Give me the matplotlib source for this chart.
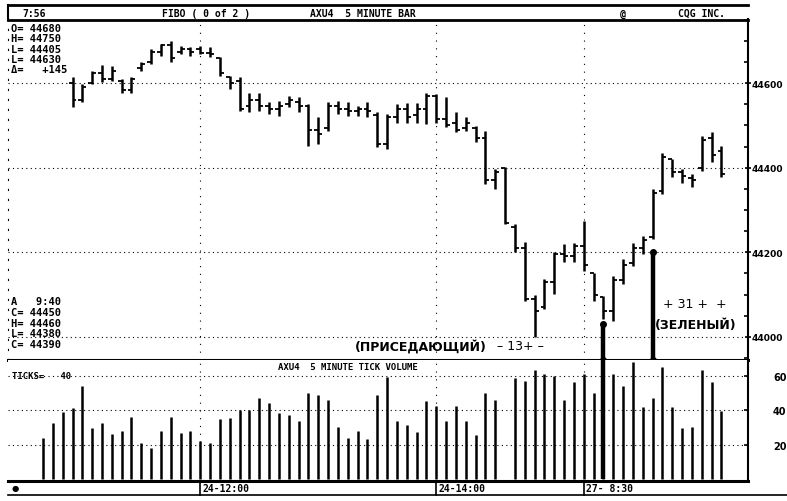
import numpy as np
import matplotlib.pyplot as plt

# 5 minute bars, index 0 = 24th 11:20 ; first three price bars are not shown
bar_idx = list(range(3, 70))
highs = [44614, 44598, 44630, 44643, 44641, 44610, 44614, 44650, 44681, 44693,
         44700, 44689, 44685, 44689, 44685, 44661, 44618, 44614, 44578, 44578,
         44555, 44559, 44570, 44567, 44551, 44519, 44555, 44559, 44555, 44547,
         44555, 44531, 44527, 44551, 44553, 44553, 44578, 44574, 44567, 44531,
         44519, 44499, 44488, 44397, 44401, 44267, 44224, 44098, 44137, 44200,
         44219, 44223, 44275, 44152, 44097, 44144, 44184, 44223, 44239, 44350,
         44436, 44421, 44397, 44385, 44476, 44484, 44452]
lows = [44543, 44555, 44598, 44602, 44606, 44578, 44578, 44630, 44645, 44665,
        44650, 44669, 44665, 44669, 44661, 44618, 44586, 44535, 44531, 44535,
        44527, 44523, 44543, 44531, 44452, 44456, 44488, 44527, 44523, 44523,
        44519, 44448, 44444, 44507, 44507, 44507, 44503, 44507, 44496, 44484,
        44488, 44460, 44361, 44350, 44267, 44200, 44084, 44000, 44066, 44101,
        44176, 44176, 44156, 44085, 44042, 44038, 44125, 44168, 44196, 44231,
        44338, 44377, 44365, 44354, 44393, 44413, 44377]
opens = [44600, 44560, 44600, 44625, 44610, 44605, 44585, 44635, 44650, 44675,
         44690, 44675, 44680, 44680, 44672, 44660, 44615, 44605, 44545, 44560,
         44545, 44540, 44550, 44555, 44545, 44490, 44495, 44545, 44540, 44535,
         44540, 44525, 44455, 44520, 44540, 44525, 44540, 44570, 44515, 44505,
         44495, 44495, 44470, 44370, 44400, 44260, 44210, 44090, 44070, 44130,
         44195, 44190, 44215, 44150, 44095, 44060, 44135, 44175, 44210, 44235,
         44345, 44420, 44390, 44375, 44400, 44470, 44440]
closes = [44560, 44590, 44625, 44610, 44630, 44585, 44610, 44645, 44675, 44690,
          44660, 44680, 44675, 44672, 44668, 44625, 44600, 44540, 44560, 44545,
          44540, 44545, 44560, 44545, 44490, 44480, 44545, 44540, 44535, 44540,
          44535, 44455, 44520, 44540, 44520, 44540, 44570, 44515, 44500, 44490,
          44505, 44470, 44370, 44390, 44270, 44210, 44090, 44060, 44130, 44195,
          44190, 44215, 44170, 44100, 44060, 44135, 44170, 44210, 44230, 44340,
          44425, 44390, 44380, 44370, 44465, 44430, 44385]

# tick volume, one value per bar (index 47 lost in the print)
tick_volume = [24, 32.5, 39, 41, 54, 29.5, 32.5, 26, 28, 36,
               21, 18, 28, 36, 26.7, 28, 22, 21, 35, 35.5,
               40, 40, 47, 44, 38.5, 37, 34, 50, 49, 46,
               30, 24, 28, 23.5, 49, 59, 34, 31.5, 27.5, 45,
               42.5, 34, 42.5, 34, 25.7, 49.7, 46, np.nan, 58.5, 57,
               63, 61, 60, 46, 56, 61, 50, 68, 61, 54,
               68, 42, 47, 65, 42, 29.5, 30, 63, 56, 39.6]

price_levels = [44000, 44200, 44400, 44600]
vol_levels = [20, 40, 60]
date_idx = [16, 40, 55]
date_labels = ['24-12:00', '24-14:00', '27- 8:30']

marked_bars = [57, 62]
marked_prices = [44030, 44200]

info_top = ['O= 44680', 'H= 44750', 'L= 44405', 'L= 44630', 'Δ=   +145']
info_bot = ['A   9:40', 'C= 44450', 'H= 44460', 'L= 44380', 'C= 44390']

W, H = 787, 502
fig = plt.figure(figsize=(W / 100, H / 100), dpi=100)
fig.patch.set_facecolor('white')

def fx(px):
    return px / W

def fy(py):
    return 1 - py / H

xlim = (-3.56, 71.7)
ax = fig.add_axes([fx(8), fy(361), fx(740), 341 / H])
axv = fig.add_axes([fx(8), fy(482), fx(740), 121 / H])

# price panel
x = np.array(bar_idx)
ax.vlines(x, lows, highs, color='k', lw=1.8)
ax.hlines(opens, x - 0.4, x, color='k', lw=1.3)
ax.hlines(closes, x, x + 0.4, color='k', lw=1.3)
for lvl in price_levels:
    ax.axhline(lvl, color='k', lw=0.8, ls=(0, (1, 3)))
for d in date_idx:
    ax.axvline(d, color='k', lw=0.8, ls=(0, (1, 6)))
ax.set_xlim(*xlim)
ax.set_ylim(43945, 44752)
for b, p in zip(marked_bars, marked_prices):
    ax.vlines(b, 43945, p, color='k', lw=3.2, clip_on=False)
    ax.plot([b], [p], 'ko', ms=4)
    ax.plot([b], [43945], 'ko', ms=4, clip_on=False)

ax.yaxis.tick_right()
ax.set_yticks(price_levels)
ax.set_yticklabels([str(v) for v in price_levels], fontsize=6.6, fontweight='bold')
ax.set_yticks(np.arange(43950, 44751, 50), minor=True)
ax.tick_params(axis='y', which='major', direction='inout', length=4, width=1.2, pad=0.5)
ax.tick_params(axis='y', which='minor', direction='in', length=3, width=1.2)
ax.set_xticks([])
ax.spines['top'].set_visible(False)
ax.spines['left'].set_linestyle((0, (1, 8)))
ax.spines['left'].set_linewidth(0.8)
ax.spines['right'].set_linewidth(1.5)
ax.spines['bottom'].set_linewidth(2.2)

# volume panel
axv.vlines(np.arange(len(tick_volume)), 0, tick_volume, color='k', lw=1.8)
for lvl in vol_levels:
    axv.axhline(lvl, color='k', lw=0.8, ls=(0, (1, 3)))
for d in date_idx:
    axv.axvline(d, color='k', lw=0.8, ls=(0, (1, 6)))
axv.vlines(marked_bars[0], 0, 69, color='k', lw=3.2)
axv.set_xlim(*xlim)
axv.set_ylim(-1, 69)
axv.yaxis.tick_right()
axv.set_yticks(vol_levels)
axv.set_yticklabels([str(v) for v in vol_levels], fontsize=7, fontweight='bold')
axv.tick_params(axis='y', direction='in', length=3, width=1.2, pad=18)
axv.set_xticks([])
axv.spines['top'].set_visible(False)
axv.spines['left'].set_visible(False)
axv.spines['right'].set_linewidth(1.5)
axv.spines['bottom'].set_linewidth(2.2)

mono = dict(family='DejaVu Sans Mono', fontweight='bold')

# header strip
fig.add_artist(plt.Line2D([fx(8), fx(748)], [fy(6), fy(6)], color='k', lw=2))
fig.add_artist(plt.Line2D([fx(8), fx(748)], [fy(21), fy(21)], color='k', lw=2))
fig.add_artist(plt.Line2D([fx(8), fx(8)], [fy(6), fy(21)], color='k', lw=1.5))
fig.text(fx(22), fy(14), '7:56', fontsize=7, va='center', **mono)
fig.text(fx(162), fy(14), 'FIBO ( 0 of 2 )', fontsize=7, va='center', **mono)
fig.text(fx(310), fy(14), 'AXU4  5 MINUTE BAR', fontsize=7, va='center', **mono)
fig.text(fx(620), fy(14), '@', fontsize=7, va='center', **mono)
fig.text(fx(678), fy(14), 'CQG INC.', fontsize=7, va='center', **mono)

# info boxes
for k, s in enumerate(info_top):
    fig.text(fx(11), fy(29 + 10.3 * k), s, fontsize=7.5, va='center', **mono)
for k, s in enumerate(info_bot):
    fig.text(fx(11), fy(302 + 10.8 * k), s, fontsize=7.5, va='center', **mono)

# volume panel titles
fig.text(fx(278), fy(368), 'AXU4  5 MINUTE TICK VOLUME', fontsize=6.5, va='center', **mono)
fig.text(fx(12), fy(377), 'TICKS=   40', fontsize=6.5, va='center', **mono)

# annotations
fig.text(fx(355), fy(347), '(ПРИСЕДАЮЩИЙ)', fontsize=9, fontweight='bold', va='center')
fig.text(fx(497), fy(347), '– 13+ –', fontsize=9, va='center')
fig.text(fx(663), fy(305), '+ 31 +  +', fontsize=9, va='center')
fig.text(fx(655), fy(326), '(ЗЕЛЕНЫЙ)', fontsize=9, fontweight='bold', va='center')

# date strip below the chart
fig.add_artist(plt.Line2D([fx(8), fx(787)], [fy(496), fy(496)], color='k', lw=1.2))
fig.text(fx(12), fy(489), '●', fontsize=6, va='center')
for d, lab in zip(date_idx, date_labels):
    xp = 8 + (d - xlim[0]) / (xlim[1] - xlim[0]) * 740
    fig.add_artist(plt.Line2D([fx(xp), fx(xp)], [fy(482), fy(496)], color='k', lw=1.2))
    fig.text(fx(xp + 2), fy(489), lab, fontsize=7, va='center', **mono)

fig.savefig('out.png', dpi=100, facecolor='white')
